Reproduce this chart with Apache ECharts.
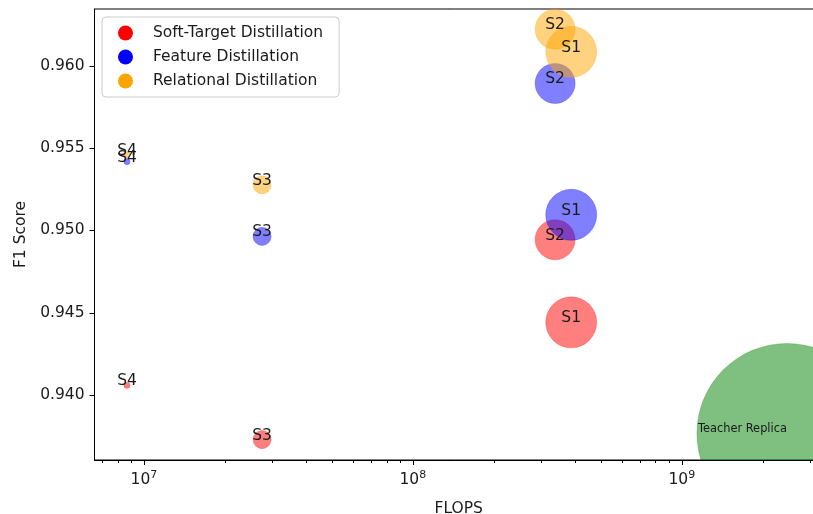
<!DOCTYPE html>
<html>
<head>
<meta charset="utf-8">
<script src="https://cdn.jsdelivr.net/npm/echarts@6/dist/echarts.min.js"></script>
<style>html,body{margin:0;padding:0;background:#fff}#c{width:813px;height:514px}</style>
</head>
<body>
<div id="c"></div>
<script>
// ---- data ----
const students = ['S1', 'S2', 'S3', 'S4'];
const studentFlops = [3.88e8, 3.38e8, 2.75e7, 8.65e6];
const softTargetF1 = [0.94442, 0.94944, 0.93730, 0.94059];
const featureF1 = [0.95095, 0.95893, 0.94964, 0.95418];
const relationalF1 = [0.96085, 0.96222, 0.95277, 0.95459];
const bubbleArea = [1350, 830, 170, 19];          // matplotlib-like marker area (pt^2)
const teacherName = 'Teacher Replica';
const teacherFlops = 2.46e9;
const teacherF1 = 0.93767;
const teacherArea = 16800;
const seriesNames = ['Soft-Target Distillation', 'Feature Distillation', 'Relational Distillation'];
const xMajorTicks = [1e7, 1e8, 1e9];
const yTicks = [0.940, 0.945, 0.950, 0.955, 0.960];

// ---- build ----
const FONT = 'DejaVu Sans';
const FS = 15.5;
const px = a => Math.sqrt(a) * 100 / 72;
const xMin = 6.55e6, xMax = 3.35e9, yMin = 0.93606, yMax = 0.96345;
const xMinor = [];
for (let e = 6; e <= 9; e++) for (let m = 2; m <= 9; m++) { const v = m * Math.pow(10, e); if (v > xMin && v < xMax) xMinor.push(v); }

function studentSeries(name, values, color, edge) {
  return {
    name, type: 'scatter', xAxisIndex: 0, yAxisIndex: 0,
    data: students.map((s, i) => ({ name: s, value: [studentFlops[i], values[i]], symbolSize: px(bubbleArea[i]) })),
    itemStyle: { color, opacity: 1, borderColor: edge, borderWidth: 1 },
    label: { show: true, position: 'inside', formatter: '{b}', color: '#1a1a1a', fontFamily: FONT, fontSize: FS, offset: [0, -4] },
    emphasis: { disabled: true }
  };
}

const option = {
  animation: false,
  grid: { left: 94.5, top: 9, right: -10, bottom: 54, show: true, borderColor: '#000', borderWidth: 1, containLabel: false, outerBoundsMode: 'none' },
  // white mask below the plot area so the large bubble is clipped at the x axis like the original
  graphic: [{ type: 'rect', z: 5, silent: true, shape: { x: 95.5, y: 461, width: 740, height: 60 }, style: { fill: '#fff' } }],
  legend: {
    orient: 'vertical', left: 102, top: 17, z: 20,
    padding: [8, 16, 8, 16], itemGap: 8, itemWidth: 15, itemHeight: 15,
    borderColor: '#cccccc', borderWidth: 1, borderRadius: 4, backgroundColor: 'rgba(255,255,255,0.8)',
    textStyle: { fontFamily: FONT, fontSize: FS, color: '#1a1a1a', padding: [0, 0, 0, 15] },
    data: [
      { name: seriesNames[0], icon: 'circle', itemStyle: { color: 'red', opacity: 1, borderWidth: 0 } },
      { name: seriesNames[1], icon: 'circle', itemStyle: { color: 'blue', opacity: 1, borderWidth: 0 } },
      { name: seriesNames[2], icon: 'circle', itemStyle: { color: 'orange', opacity: 1, borderWidth: 0 } }
    ]
  },
  xAxis: [{
    type: 'log', logBase: 10, min: xMin, max: xMax, z: 10,
    name: 'FLOPS', nameLocation: 'middle', nameGap: 41,
    nameTextStyle: { fontFamily: FONT, fontSize: FS, color: '#1a1a1a' },
    axisLine: { show: true, onZero: false, lineStyle: { color: '#000', width: 1 } },
    axisTick: { show: true, inside: false, length: 5, customValues: xMajorTicks, lineStyle: { color: '#000' } },
    axisLabel: {
      customValues: xMajorTicks, margin: 10, color: '#1a1a1a', fontFamily: FONT,
      formatter: v => '{b|10}{s|' + Math.round(Math.log10(v)) + '}',
      rich: { b: { fontSize: FS, fontFamily: FONT, color: '#1a1a1a' }, s: { fontSize: 11, fontFamily: FONT, color: '#1a1a1a', verticalAlign: 'top', padding: [0, 0, 9, 0] } }
    },
    splitLine: { show: false }
  }, {
    type: 'log', logBase: 10, min: xMin, max: xMax, position: 'bottom', gridIndex: 0, z: 10,
    axisLine: { show: false }, axisLabel: { show: false }, splitLine: { show: false },
    axisTick: { show: true, length: 3, customValues: xMinor, lineStyle: { color: '#000' } }
  }],
  yAxis: {
    type: 'value', min: yMin, max: yMax, z: 10,
    name: 'F1 Score', nameLocation: 'middle', nameGap: 66,
    nameTextStyle: { fontFamily: FONT, fontSize: FS, color: '#1a1a1a' },
    axisLine: { show: true, onZero: false, lineStyle: { color: '#000', width: 1 } },
    axisTick: { show: true, length: 5, customValues: yTicks, lineStyle: { color: '#000' } },
    axisLabel: { customValues: yTicks, margin: 10, fontFamily: FONT, fontSize: FS, color: '#1a1a1a', formatter: v => v.toFixed(3) },
    splitLine: { show: false }
  },
  series: [
    studentSeries(seriesNames[0], softTargetF1, 'rgba(255,0,0,0.5)', 'rgba(255,0,0,0.25)'),
    studentSeries(seriesNames[1], featureF1, 'rgba(0,0,255,0.5)', 'rgba(0,0,255,0.25)'),
    studentSeries(seriesNames[2], relationalF1, 'rgba(255,165,0,0.5)', 'rgba(255,165,0,0.25)'),
    {
      name: teacherName, type: 'scatter',
      data: [{ name: teacherName, value: [teacherFlops, teacherF1], symbolSize: px(teacherArea) }],
      itemStyle: { color: 'rgba(0,128,0,0.5)', opacity: 1, borderColor: 'rgba(0,128,0,0.25)', borderWidth: 1 },
      label: { show: true, position: 'inside', align: 'right', formatter: '{b}', color: '#1a1a1a', fontFamily: FONT, fontSize: 11.4, offset: [0, -4] },
      emphasis: { disabled: true }
    }
  ]
};
const chart = echarts.init(document.getElementById('c'), null, { renderer: 'canvas' });
chart.setOption(option);
</script>
</body>
</html>
